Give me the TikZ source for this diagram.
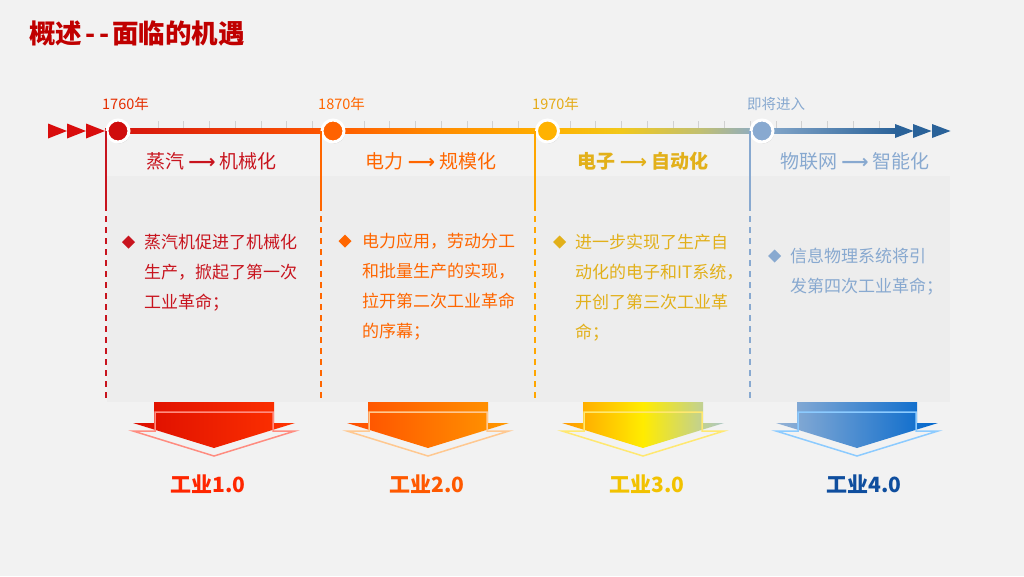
\documentclass[tikz,border=0pt]{standalone}
\usepackage{fontspec}
\setmainfont{Noto Sans CJK SC}
\newfontfamily\dejavu{DejaVu Sans}
\usetikzlibrary{shadows}
\definecolor{bg}{HTML}{F2F2F2}
\definecolor{panel}{HTML}{EDEDED}
\definecolor{titlered}{HTML}{C00000}
\definecolor{cA}{HTML}{C8141E}
\definecolor{cB}{HTML}{FF6600}
\definecolor{cC}{HTML}{E2B01A}
\definecolor{cD}{HTML}{88A9D0}
\definecolor{tlA}{HTML}{D20F0F}
\definecolor{tlB}{HTML}{FF5A00}
\definecolor{tlC}{HTML}{FF8C00}
\definecolor{tlD}{HTML}{FFB000}
\definecolor{tlE}{HTML}{F2C81A}
\definecolor{tlF}{HTML}{C2C070}
\definecolor{tlG}{HTML}{88AACC}
\definecolor{tlH}{HTML}{2A6299}
\definecolor{gold}{HTML}{F2C200}
\definecolor{navy}{HTML}{0F4E9E}
\definecolor{olA}{HTML}{FF8C80}
\definecolor{olB}{HTML}{FFC890}
\definecolor{olC}{HTML}{FFE870}
\definecolor{olD}{HTML}{8CCBFF}
\pgfdeclarehorizontalshading{timelineshade}{100bp}{color(0bp)=(tlA); color(25bp)=(tlA); color(39.4bp)=(tlB); color(46.1bp)=(tlC); color(52.9bp)=(tlD); color(57.5bp)=(tlE); color(62.5bp)=(tlF); color(66.4bp)=(tlG); color(75bp)=(tlH); color(100bp)=(tlH)}
\newcommand\arrbody[2]{\path[#2] (#1-60,402) -- (#1+60,402) -- (#1+60,423) -- (#1+81,423) -- (#1,448) -- (#1-81,423) -- (#1-60,423) -- cycle;}
\newcommand\arrline[2]{\draw[line width=1.5, #2, line join=miter] (#1-59,412) -- (#1+59,412) -- (#1+59,431) -- (#1+81,431) -- (#1,456) -- (#1-81,431) -- (#1-59,431) -- cycle;}
\newcommand\bul[3]{\fill[#3] (#1,#2-6.5) -- (#1+6.5,#2) -- (#1,#2+6.5) -- (#1-6.5,#2) -- cycle;}
\tikzset{
  body/.style={anchor=base west, inner sep=0, font=\fontsize{17}{20}\selectfont},
  head/.style={anchor=base, inner sep=0, font=\fontsize{19}{22}\selectfont},
  year/.style={anchor=base west, inner sep=0, font=\fontsize{14.5}{16}\selectfont},
  ind/.style={anchor=base, inner sep=0, font=\fontsize{21}{24}\selectfont\bfseries},
  dot/.style={circle, draw=white, line width=3, minimum size=22, inner sep=0,
     drop shadow={opacity=0.3, shadow xshift=1pt, shadow yshift=-1.5pt}},
  vsolid/.style={line width=2},
  vdash/.style={line width=2, dash pattern=on 6pt off 5pt},
  tick/.style={draw=black!18, line width=1}
}
\begin{document}
\begin{tikzpicture}[x=1pt,y=-1pt]
\useasboundingbox (0,0) rectangle (1024,576);
\fill[bg] (0,0) rectangle (1024,576);
% title
\node[anchor=west, inner sep=0, text=titlered, font=\fontsize{26.5}{30}\selectfont\bfseries] (title) at (29,33) {概述\hspace{3pt}-\hspace{4pt}-\hspace{3pt}面临的机遇};
% panel
\fill[panel] (107,176) rectangle (950,402);
% ticks
\foreach \k in {1,...,29} \draw[tick] (132.25+25.75*\k,121) -- (132.25+25.75*\k,131);
% timeline
\shade[shading=timelineshade] (105,128.5) rectangle (897,133.5);
\foreach \s in {48,67,86} \fill[tlA!85!red] (\s,123.5) -- (\s+19,131) -- (\s,138.5) -- cycle;
\foreach \s in {895,913,932} \fill[tlH] (\s,124) -- (\s+18.5,131) -- (\s,138) -- cycle;
% vertical lines
\coordinate (v1a) at (105.5,205); \coordinate (v1b) at (105.5,398);
\coordinate (v2a) at (320.5,205); \coordinate (v2b) at (320.5,398);
\coordinate (v3a) at (535,205); \coordinate (v3b) at (535,398);
\coordinate (v4a) at (749.5,205); \coordinate (v4b) at (749.5,398);
% circles
\node[dot, fill=red!80!black!95!white] (c1) at (118,131) {};
\node[dot, fill=orange!70!red!95!yellow] (c2) at (333,131) {};
\node[dot, fill=orange!60!yellow] (c3) at (547.5,131) {};
\node[dot, fill=cD] (c4) at (762,131) {};
\draw[vsolid, cA] (c1.west) -- (v1a); \draw[vdash, cA] (v1a) -- (v1b);
\draw[vsolid, cB] (c2.west) -- (v2a); \draw[vdash, cB] (v2a) -- (v2b);
\draw[vsolid, orange!70!yellow] (c3.west) -- (v3a); \draw[vdash, orange!70!yellow] (v3a) -- (v3b);
\draw[vsolid, cD] (c4.west) -- (v4a); \draw[vdash, cD] (v4a) -- (v4b);
% years
\node[year, text=red!60!orange!90!black] (y1) at (102,109.5) {1760年};
\node[year, text=orange!80!red] (y2) at (318,109.5) {1870年};
\node[year, text=cC!90!orange] (y3) at (532,109.5) {1970年};
\node[year, text=cD] (y4) at (747,109.5) {即将进入};
% headers
\node[head, text=cA] (h1) at (211.5,168.2) {蒸汽 {\dejavu\bfseries ⟶} 机械化};
\node[head, text=cB] (h2) at (431,168.2) {电力 {\dejavu\bfseries ⟶} 规模化};
\node[head, text=cC, font=\fontsize{19}{22}\selectfont\bfseries] (h3) at (643,168.2) {电子 {\dejavu\bfseries ⟶} 自动化};
\node[head, text=cD] (h4) at (855,168.2) {物联网 {\dejavu\bfseries ⟶} 智能化};
% body col1
\bul{128.5}{242}{cA}
\node[body, text=cA] (a1) at (144,248.3) {蒸汽机促进了机械化};
\node[body, text=cA] (a2) at (144,278.3) {生产，掀起了第一次};
\node[body, text=cA] (a3) at (144,308.3) {工业革命；};
% body col2
\bul{345}{241}{cB}
\node[body, text=cB] (b1) at (362,247.3) {电力应用，劳动分工};
\node[body, text=cB] (b2) at (362,277.3) {和批量生产的实现，};
\node[body, text=cB] (b3) at (362,307.3) {拉开第二次工业革命};
\node[body, text=cB] (b4) at (362,337.3) {的序幕；};
% body col3
\bul{559.5}{242}{cC}
\node[body, text=cC] (d1) at (575,248.3) {进一步实现了生产自};
\node[body, text=cC] (d2) at (575,278.3) {动化的电子和IT系统，};
\node[body, text=cC] (d3) at (575,308.3) {开创了第三次工业革};
\node[body, text=cC] (d4) at (575,338.3) {命；};
% body col4
\bul{774.5}{256}{cD}
\node[body, text=cD] (e1) at (790,262.3) {信息物理系统将引};
\node[body, text=cD] (e2) at (790,292.3) {发第四次工业革命；};
% big arrows
\arrbody{214}{left color=red!85!black!90!orange, right color=orange!40!red}
\arrline{214}{olA}
\arrbody{428}{left color=orange!60!red, right color=orange!80!yellow}
\arrline{428}{olB}
\arrbody{643}{left color=orange!80!yellow, right color=cyan!20!gray!55!white, middle color=yellow!85!orange}
\arrline{643}{olC}
\arrbody{857}{left color=cD!90!white, right color=blue!50!cyan!80!black}
\arrline{857}{olD}
% labels
\node[ind, text=red!70!orange] (i1) at (208,492) {工业1.0};
\node[ind, text=orange!70!red] (i2) at (427,492) {工业2.0};
\node[ind, text=gold] (i3) at (647,492) {工业3.0};
\node[ind, text=navy] (i4) at (864,492) {工业4.0};
\end{tikzpicture}
\end{document}
